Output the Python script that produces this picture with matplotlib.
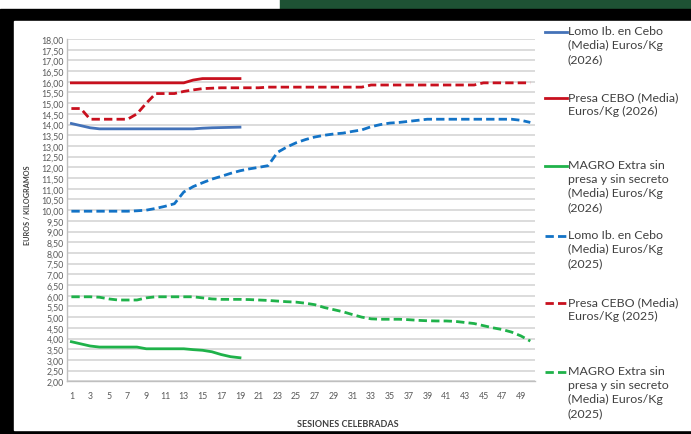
import numpy as np
import matplotlib
matplotlib.use("Agg")
import matplotlib.pyplot as plt
from matplotlib.patches import Rectangle
from matplotlib.lines import Line2D

plt.rcParams['font.family'] = ['Lato', 'DejaVu Sans']

# ---------- data ----------
sessions_2026 = list(range(1, 20))
sessions_2025 = list(range(1, 51))

lomo_2026 = [14.05, 13.95, 13.85, 13.80, 13.80, 13.80, 13.80, 13.80, 13.80, 13.80,
             13.80, 13.80, 13.80, 13.80, 13.83, 13.85, 13.86, 13.87, 13.88]
presa_2026 = [15.95, 15.95, 15.95, 15.95, 15.95, 15.95, 15.95, 15.95, 15.95, 15.95,
              15.95, 15.95, 15.95, 16.08, 16.15, 16.15, 16.15, 16.15, 16.15]
magro_2026 = [3.85, 3.75, 3.65, 3.60, 3.60, 3.60, 3.60, 3.60, 3.52, 3.52,
              3.52, 3.52, 3.52, 3.48, 3.45, 3.38, 3.25, 3.15, 3.10]

lomo_2025 = [9.95, 9.95, 9.95, 9.95, 9.95, 9.95, 9.95, 9.97, 10.00, 10.08,
             10.18, 10.30, 10.85, 11.10, 11.28, 11.45, 11.58, 11.72, 11.84, 11.93,
             12.00, 12.08, 12.70, 12.95, 13.15, 13.30, 13.42, 13.50, 13.56, 13.60,
             13.68, 13.75, 13.90, 14.00, 14.07, 14.10, 14.15, 14.20, 14.25, 14.25,
             14.25, 14.25, 14.25, 14.25, 14.25, 14.25, 14.25, 14.25, 14.20, 14.10]
presa_2025 = [14.75, 14.75, 14.25, 14.25, 14.25, 14.25, 14.25, 14.50, 15.00, 15.45,
              15.45, 15.45, 15.55, 15.62, 15.68, 15.70, 15.72, 15.72, 15.72, 15.72,
              15.72, 15.75, 15.75, 15.75, 15.75, 15.75, 15.75, 15.75, 15.75, 15.75,
              15.75, 15.75, 15.85, 15.85, 15.85, 15.85, 15.85, 15.85, 15.85, 15.85,
              15.85, 15.85, 15.85, 15.85, 15.95, 15.95, 15.95, 15.95, 15.95, 15.95]
magro_2025 = [5.95, 5.95, 5.95, 5.93, 5.85, 5.80, 5.80, 5.80, 5.90, 5.95,
              5.95, 5.95, 5.95, 5.95, 5.90, 5.85, 5.83, 5.83, 5.83, 5.82,
              5.80, 5.78, 5.75, 5.72, 5.70, 5.65, 5.58, 5.45, 5.35, 5.25,
              5.12, 5.00, 4.92, 4.90, 4.90, 4.90, 4.88, 4.85, 4.83, 4.82,
              4.82, 4.80, 4.75, 4.70, 4.60, 4.50, 4.42, 4.30, 4.12, 3.88]

legend_labels = [
    "Lomo Ib. en Cebo\n(Media) Euros/Kg\n(2026)",
    "Presa CEBO (Media)\nEuros/Kg (2026)",
    "MAGRO Extra sin\npresa y sin secreto\n(Media) Euros/Kg\n(2026)",
    "Lomo Ib. en Cebo\n(Media) Euros/Kg\n(2025)",
    "Presa CEBO (Media)\nEuros/Kg (2025)",
    "MAGRO Extra sin\npresa y sin secreto\n(Media) Euros/Kg\n(2025)",
]

BLUE_S = "#4472B8"
BLUE_D = "#1373C6"
RED = "#C8101E"
GREEN = "#1FB24A"
DASH = (0, (3, 1.5))

W, H = 691, 435
fig = plt.figure(figsize=(W / 100, H / 100), dpi=100)

def px(x, y):
    return x / W, 1 - y / H

# background frame
fig.patches.append(Rectangle((280 / W, 1 - 10 / H), (W - 280) / W, 10 / H,
                             transform=fig.transFigure, color="#1E5234", zorder=-10))
fig.patches.append(Rectangle((0, 0), 1, 1 - 10 / H,
                             transform=fig.transFigure, color="black", zorder=-10))
fig.patches.append(Rectangle((14 / W, 4 / H), (W - 14) / W, (431 - 22) / H,
                             transform=fig.transFigure, color="white", zorder=-9))

ax = fig.add_axes([66.7 / W, 1 - 382.3 / H, (535 - 66.7) / W, (382.3 - 40) / H])
ax.set_facecolor("none")

series = [
    (sessions_2026, lomo_2026, BLUE_S, "-"),
    (sessions_2026, presa_2026, RED, "-"),
    (sessions_2026, magro_2026, GREEN, "-"),
    (sessions_2025, lomo_2025, BLUE_D, DASH),
    (sessions_2025, presa_2025, RED, DASH),
    (sessions_2025, magro_2025, GREEN, DASH),
]
for xs, ys, c, ls in series:
    ax.plot(xs, ys, color=c, lw=2.0, linestyle=ls, solid_joinstyle="round")

ax.set_xlim(0.5, 50.5)
ax.set_ylim(2, 18)
yt = np.arange(2, 18.01, 0.5)
ax.set_yticks(yt)
ax.set_yticklabels([f"{v:.2f}".replace(".", ",") for v in yt])
ax.set_xticks(sessions_2025[::2])
ax.set_xticklabels([str(s) for s in sessions_2025[::2]])
ax.tick_params(axis="both", length=0, labelsize=6.3, colors="#595959", pad=2)
ax.tick_params(axis="x", pad=7)
ax.grid(axis="y", color="#D9D9D9", lw=1.3)
ax.set_axisbelow(True)
for s in ["top", "right"]:
    ax.spines[s].set_visible(False)
for s in ["left", "bottom"]:
    ax.spines[s].set_color("#BFBFBF")
    ax.spines[s].set_linewidth(1.0)

fig.text(*px(348, 425), "SESIONES CELEBRADAS", ha="center", va="center",
         fontsize=6.5, fontweight="bold", color="#404040")
fig.text(*px(28, 205), "EUROS / KILOGRAMOS", ha="center", va="center",
         rotation=90, fontsize=5.2, fontweight="bold", color="#404040")

# legend drawn by hand
leg_y = [33, 99, 167, 237, 304, 373]
for (xs, ys, c, ls), lab, y in zip(series, legend_labels, leg_y):
    x0, yy = px(545, y)
    x1, _ = px(567, y)
    fig.add_artist(Line2D([x0, x1], [yy, yy], color=c, lw=2.0, linestyle=ls,
                          transform=fig.transFigure))
    fig.text(*px(568, y - 7), lab, ha="left", va="top", fontsize=8.9,
             color="#404040", linespacing=1.33)

fig.savefig("out.png", dpi=100)
